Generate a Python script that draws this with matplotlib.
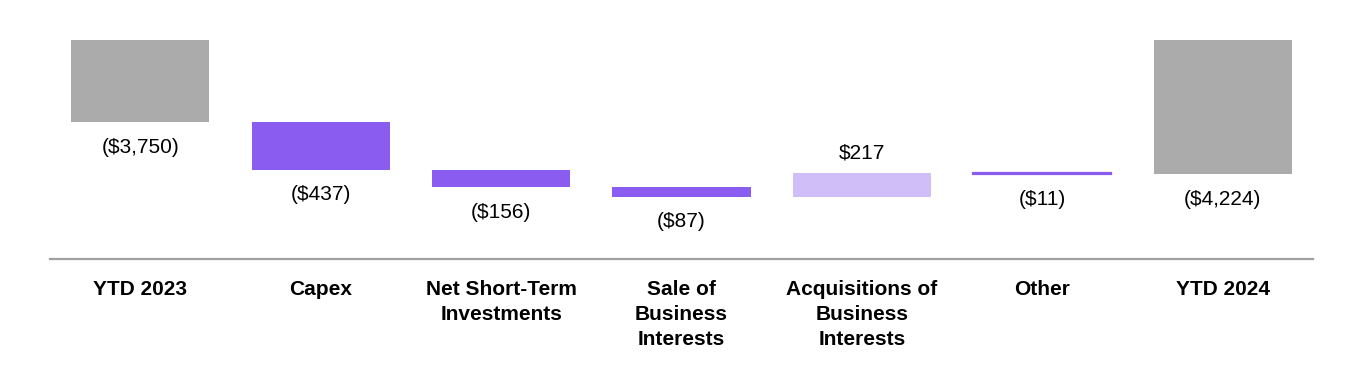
import matplotlib.pyplot as plt

# Cash flow from investing activities, YTD bridge ($ millions, outflows shown as negatives)
categories = [
    "YTD 2023",
    "Capex",
    "Net Short-Term\nInvestments",
    "Sale of\nBusiness\nInterests",
    "Acquisitions of\nBusiness\nInterests",
    "Other",
    "YTD 2024",
]
start_total = -3750
changes = [-437, -156, -87, 217, -11]
end_total = -4224
value_labels = ["($3,750)", "($437)", "($156)", "($87)", "$217", "($11)", "($4,224)"]

GRAY = "#ABABAB"
PURPLE = "#8B5CF0"
LIGHT_PURPLE = "#D0BEF8"
AXIS_TOP = -3000
AXIS_BOTTOM = -5000

plt.rcParams["font.family"] = ["Liberation Sans", "DejaVu Sans"]

fig = plt.figure(figsize=(13.64, 3.70), dpi=100)
ax = fig.add_axes([50 / 1364, 0.30, 1263 / 1364, 219 / 370])

x = list(range(len(categories)))
width = 0.765

# totals drawn from the (truncated) axis top down to the value
ax.bar(x[0], start_total - AXIS_TOP, bottom=AXIS_TOP, width=width, color=GRAY)
ax.bar(x[-1], end_total - AXIS_TOP, bottom=AXIS_TOP, width=width, color=GRAY)

running = start_total
for i, delta in enumerate(changes, start=1):
    color = LIGHT_PURPLE if delta > 0 else PURPLE
    # very small steps still get a visible sliver
    lw = 1.6 if abs(delta) < 30 else 0
    ax.bar(i, delta, bottom=running, width=width, color=color, edgecolor=color, linewidth=lw)
    end = running + delta
    if delta > 0:
        ax.annotate(value_labels[i], (i, end), xytext=(0, 14), textcoords="offset points",
                    ha="center", va="center", fontsize=15)
    else:
        ax.annotate(value_labels[i], (i, end), xytext=(0, -18), textcoords="offset points",
                    ha="center", va="center", fontsize=15)
    running = end

ax.annotate(value_labels[0], (x[0], start_total), xytext=(0, -18), textcoords="offset points",
            ha="center", va="center", fontsize=15)
ax.annotate(value_labels[-1], (x[-1], end_total), xytext=(0, -18), textcoords="offset points",
            ha="center", va="center", fontsize=15)

ax.set_xlim(-0.5, 6.5)
ax.set_ylim(AXIS_BOTTOM, AXIS_TOP)
ax.set_xticks(x)
ax.set_xticklabels(categories, fontsize=15, fontweight="bold", linespacing=1.42, va="top")
ax.tick_params(axis="x", length=0, pad=15)
ax.set_yticks([])
for side in ["top", "left", "right"]:
    ax.spines[side].set_visible(False)
ax.spines["bottom"].set_color("#A0A0A0")
ax.spines["bottom"].set_linewidth(1.6)

fig.savefig("out.png", dpi=100)
